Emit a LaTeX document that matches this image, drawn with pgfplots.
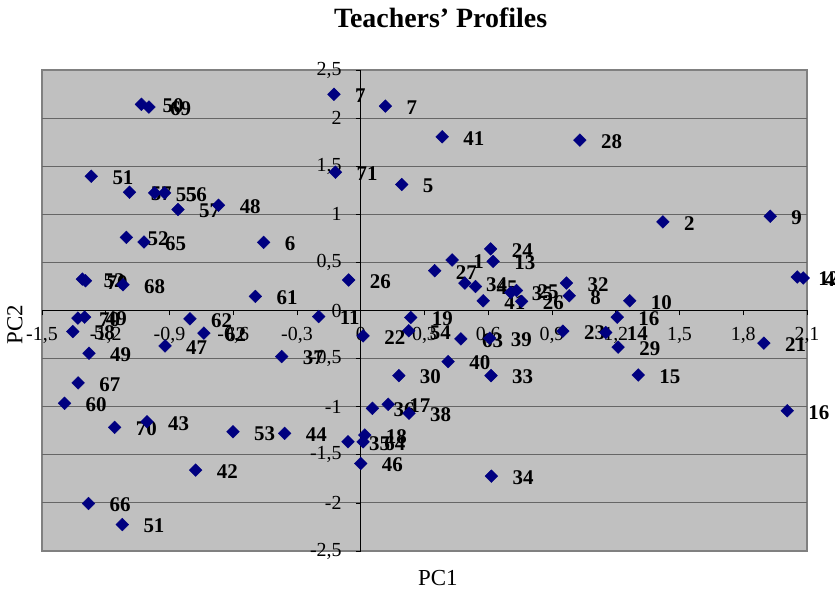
\documentclass[border=0pt]{standalone}
\usepackage{fontspec}
\setmainfont{Liberation Serif}
\usepackage{pgfplots}
\pgfplotsset{compat=1.18}
\usepackage{pgfplotstable}
\definecolor{plotbg}{HTML}{C0C0C0}
\definecolor{navyc}{HTML}{000080}
\definecolor{framegray}{HTML}{808080}
\pgfplotstableread{
x y label
-1.032 2.143 50
-0.997 2.115 69
-1.268 1.396 51
-1.088 1.229 57
-0.970 1.223 55
-0.923 1.223 56
-0.860 1.049 57
-0.669 1.094 48
-0.126 2.247 7
0.116 2.125 7
0.383 1.806 41
-0.119 1.438 71
0.193 1.309 5
1.031 1.771 28
1.422 0.921 2
1.927 0.979 9
-1.103 0.760 52
-1.020 0.713 65
-0.457 0.708 6
-1.310 0.327 52
-1.295 0.309 70
-1.119 0.268 68
-0.496 0.146 61
-0.198 -0.063 11
-1.331 -0.079 70
-1.299 -0.069 49
-1.355 -0.219 58
-1.279 -0.444 49
-0.804 -0.086 62
-0.738 -0.235 62
-0.921 -0.368 47
-0.372 -0.479 37
-1.330 -0.753 67
-0.057 0.317 26
0.348 0.414 27
0.430 0.525 1
0.611 0.640 24
0.623 0.510 13
0.490 0.285 34
0.540 0.250 45
0.576 0.101 41
0.706 0.188 35
0.733 0.208 25
0.757 0.094 26
0.968 0.285 32
0.981 0.153 8
0.235 -0.073 19
0.226 -0.211 54
0.011 -0.264 22
0.471 -0.295 63
0.607 -0.288 39
0.951 -0.215 23
0.411 -0.531 40
0.179 -0.677 30
0.613 -0.677 33
2.054 0.348 12
2.082 0.338 4
1.266 0.101 10
1.207 -0.069 16
1.153 -0.229 14
1.211 -0.381 29
1.306 -0.670 15
1.897 -0.340 21
2.007 -1.042 16
-1.394 -0.965 60
-1.158 -1.215 70
-1.006 -1.156 43
-0.601 -1.260 53
-0.358 -1.277 44
-0.777 -1.659 42
-1.281 -2.006 66
-1.122 -2.225 51
0.055 -1.017 36
0.129 -0.975 17
0.227 -1.069 38
-0.060 -1.365 35
0.019 -1.295 18
0.011 -1.365 64
0.000 -1.590 46
0.615 -1.722 34
}\pcdata
\begin{document}
\begin{tikzpicture}
\path[use as bounding box] (-42bp,-46bp) rectangle (793bp,551bp);
\begin{axis}[
  at={(0,0)}, anchor=south west,
  scale only axis, width=765bp, height=481bp,
  xmin=-1.5, xmax=2.1, ymin=-2.5, ymax=2.5,
  axis lines=middle,
  axis line style={-, black, line width=0.8bp},
  axis background/.style={fill=plotbg, draw=framegray, line width=2bp},
  xtick={-1.5,-1.2,-0.9,-0.6,-0.3,0,0.3,0.6,0.9,1.2,1.5,1.8,2.1},
  xticklabels={{-1,5},{-1,2},{-0,9},{-0,6},{-0,3},{0},{0,3},{0,6},{0,9},{1,2},{1,5},{1,8},{2,1}},
  ytick={-2,-1.5,-1,-0.5,0,0.5,1,1.5,2},
  yticklabels={{-2},{-1,5},{-1},{-0,5},{0},{0,5},{1},{1,5},{2}},
  extra y ticks={-2.5,2.5},
  extra y tick labels={{-2,5},{2,5}},
  extra y tick style={grid=none},
  hide obscured x ticks=false, hide obscured y ticks=false,
  ymajorgrids, grid style={black!60, line width=1bp},
  tick align=outside, major tick length=5bp,
  tick style={black, line width=0.8bp},
  xticklabel style={font=\fontsize{20}{24}\selectfont, anchor=north, inner sep=0pt, yshift=-12bp},
  yticklabel style={font=\fontsize{20}{24}\selectfont, anchor=east, inner sep=0pt, xshift=-14bp},
  clip=false,
  title={Teachers' Profiles},
  title style={at={(axis description cs:0.521,1.096)}, anchor=center, font=\bfseries\fontsize{28}{32}\selectfont},
  xlabel={PC1},
  xlabel style={at={(axis description cs:0.5176,-0.0561)}, anchor=center, font=\fontsize{23}{27}\selectfont},
  ylabel={PC2},
  ylabel style={at={(axis description cs:-0.0353,0.47)}, anchor=center, rotate=90, font=\fontsize{23}{27}\selectfont},
]
\addplot[only marks, mark=square*, mark size=4.5bp,
  mark options={rotate=45, fill=navyc, draw=navyc},
  nodes near coords, point meta=explicit symbolic,
  every node near coord/.append style={anchor=west, inner sep=0pt, xshift=21bp, yshift=-1.5bp, text=black, font=\bfseries\fontsize{21}{25}\selectfont}]
  table[x=x, y=y, meta=label] {\pcdata};
\end{axis}
\end{tikzpicture}
\end{document}
